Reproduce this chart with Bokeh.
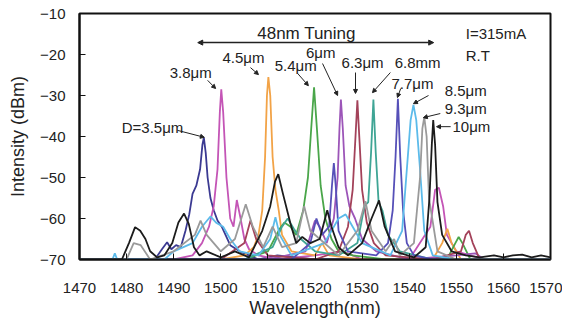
from bokeh.plotting import figure
from bokeh.models import Range1d, FixedTicker, Arrow, NormalHead
from bokeh.core.properties import value
from bokeh.embed import file_html
from bokeh.resources import INLINE

# ---------------- data ----------------
wl_35 = [1470, 1486, 1487.5, 1488.6, 1489.5, 1490.5, 1491.5, 1492.5, 1493.3, 1494, 1494.8, 1495.6, 1496.1, 1496.4,
         1496.8, 1497.2, 1497.8, 1498.5, 1499.3, 1500.2, 1501, 1502, 1504, 1506, 1508, 1512, 1520, 1540, 1570]
db_35 = [-70, -70, -67.5, -65.8, -67.5, -66.5, -67, -63, -59, -54, -52, -48, -42, -40.3,
         -44, -50, -55, -58, -60.5, -62, -64, -66.5, -68, -69, -70, -69, -70, -70, -70]

wl_38 = [1470, 1490, 1494, 1496, 1497.5, 1498.5, 1499.3, 1499.8, 1500.1, 1500.5, 1501.2, 1502, 1502.7, 1503.4,
         1504.2, 1505, 1506, 1508, 1512, 1520, 1526, 1530, 1540, 1544.5, 1545.5, 1546.3, 1547.2, 1548, 1550, 1556, 1570]
db_38 = [-70, -70, -69, -66, -62, -57, -48, -34, -28.5, -34, -50, -60, -62, -55.5,
         -60, -65, -67.5, -69, -70, -69, -68, -70, -70, -62, -53, -52.5, -57, -64, -68, -70, -70]

wl_45 = [1470, 1500, 1505, 1507, 1508, 1508.8, 1509.4, 1509.8, 1510.1, 1510.5, 1511, 1511.6, 1512.3, 1513, 1515,
         1520, 1521.5, 1523, 1530, 1545, 1547, 1548.1, 1549, 1551, 1570]
db_45 = [-70, -70, -69, -67, -64, -58, -45, -30, -25.5, -30, -45, -53, -58, -64, -68,
         -69, -66, -69, -70, -70, -66, -62.5, -66, -70, -70]

wl_54 = [1470, 1505, 1510, 1512.5, 1513.5, 1514.8, 1516, 1517.5, 1518.5, 1519.2, 1519.8, 1520.4, 1521.2, 1522.2,
         1523.5, 1525, 1528, 1535, 1548, 1549.8, 1550.5, 1551.3, 1553, 1570]
db_54 = [-70, -70, -68, -62.5, -61, -62, -64, -58, -50, -38, -28, -38, -52, -60,
         -65, -68, -69, -70, -70, -66, -64.5, -66, -70, -70]

wl_60 = [1470, 1510, 1518, 1520, 1521, 1522.5, 1524, 1524.8, 1525.2, 1525.5, 1525.9, 1526.5, 1527.3, 1528.5,
         1530, 1533, 1540, 1550, 1554, 1556, 1570]
db_60 = [-70, -70, -68, -60.5, -62, -66, -60, -50, -38, -31, -38, -52, -57, -60,
         -65, -68, -70, -69, -68.5, -70, -70]

wl_63 = [1470, 1500, 1505, 1506.3, 1507.5, 1510, 1520, 1525, 1527, 1528, 1528.6, 1529, 1529.4, 1530, 1531, 1532.5,
         1535, 1545, 1551, 1552, 1552.7, 1553.5, 1555, 1570]
db_63 = [-70, -70, -66, -60.5, -65, -69, -70, -68, -62, -53, -40, -31.2, -40, -53, -61, -66,
         -69, -70, -68, -64, -63, -66, -70, -70]

wl_68 = [1470, 1505, 1511, 1513, 1514.2, 1515.5, 1517, 1520, 1525, 1529, 1530.5, 1531.3, 1531.9, 1532.4, 1532.9,
         1533.5, 1534.3, 1535.5, 1538, 1545, 1570]
db_68 = [-70, -70, -67, -62, -60, -62.5, -65, -68, -69, -66, -57, -56, -44, -31, -44,
         -56, -58, -64, -68, -70, -70]

wl_77 = [1470, 1515, 1519, 1520.3, 1521.5, 1523, 1523.6, 1524, 1524.4, 1525, 1527, 1533, 1535.5, 1536.5, 1537.1,
         1537.6, 1538.1, 1538.7, 1539.5, 1541, 1545, 1570]
db_77 = [-70, -70, -66, -60, -64, -62, -52, -46.5, -52, -63, -68, -69, -66, -58, -45,
         -30.8, -45, -58, -66, -69, -70, -70]

wl_85 = [1470, 1477, 1477.5, 1478, 1488, 1490, 1494, 1496, 1497.8, 1499, 1500.5, 1502, 1504, 1508, 1510.5, 1511.6,
         1512.5, 1515, 1522, 1525, 1526.5, 1528, 1530, 1536, 1538.5, 1539.5, 1540.3, 1540.9, 1541.5, 1542.3, 1543.2,
         1545, 1550, 1570]
db_85 = [-70, -70, -68.5, -70, -70, -68, -66, -62, -59.5, -61, -62, -65, -68, -69, -65, -59.7,
         -64, -69, -66, -60, -59, -62, -66, -69, -63, -48, -36, -32.3, -36, -48, -63,
         -69, -70, -70]

wl_93 = [1470, 1480, 1481.5, 1483, 1485, 1490, 1494.5, 1495.7, 1497, 1500, 1503, 1505.3, 1506.8, 1509, 1511, 1513,
         1516, 1517.7, 1519, 1525, 1529, 1530.7, 1532, 1535, 1536.8, 1538, 1541, 1542.3, 1542.8, 1543.2, 1543.7,
         1544.2, 1546, 1550, 1570]
db_93 = [-70, -70, -66, -66.5, -70, -68, -64, -60.5, -64, -68, -65, -56.5, -62, -67, -62, -67,
         -66, -57, -63, -69, -63, -55.8, -63, -68, -65, -69, -66, -50, -38, -35.3, -40,
         -55, -68, -70, -70]

wl_100 = [1470, 1479, 1480.5, 1481.8, 1482.9, 1484, 1485, 1486.5, 1488, 1489.7, 1491, 1492.2, 1493.2, 1494.3,
          1495.5, 1497, 1500, 1503, 1506, 1508.8, 1510.5, 1511.5, 1512.2, 1513.2, 1514.8, 1516, 1517.3, 1519,
          1521, 1522.6, 1523.5, 1525, 1527, 1530, 1532, 1533.6, 1534.8, 1537, 1541, 1543.5, 1544.3, 1544.8,
          1545.1, 1545.5, 1546, 1547, 1549, 1552, 1555, 1558, 1560, 1562, 1564, 1566, 1568, 1570]
db_100 = [-70, -70, -66, -62.1, -63, -65, -68, -69.5, -69, -66, -61, -58.8, -61.3, -67,
          -69, -68, -69.5, -68, -69.5, -63, -57, -51, -49.2, -54, -61.3, -66, -64.5, -66,
          -65, -58, -62, -67, -69, -66, -60, -55.6, -62, -68, -69.5, -67, -55, -42,
          -36, -42, -56, -64, -68, -69, -69.5, -69, -69.5, -69, -68.8, -69.5, -69, -69.5]

series_wl = [wl_35, wl_38, wl_45, wl_54, wl_60, wl_63, wl_68, wl_77, wl_85, wl_93, wl_100]
series_db = [db_35, db_38, db_45, db_54, db_60, db_63, db_68, db_77, db_85, db_93, db_100]
series_colors = ["#3b3a92", "#c455b6", "#f2a347", "#4aa64a", "#9c55b8", "#a3425a",
                 "#3fa595", "#5650b8", "#5cbbea", "#9a9a9a", "#1c1c1c"]

x_ticks = [1470, 1480, 1490, 1500, 1510, 1520, 1530, 1540, 1550, 1560, 1570]
y_ticks = [-70, -60, -50, -40, -30, -20, -10]

# peak labels: text, x, y (data coordinates)
lab_text = ["D=3.5μm", "3.8μm", "4.5μm", "5.4μm", "6μm", "6.3μm", "6.8mm", "7.7μm", "8.5μm", "9.3μm", "10μm"]
lab_x = [1485.5, 1493.6, 1504.8, 1515.9, 1521.2, 1530.1, 1541.8, 1540.7, 1552.0, 1552.0, 1553.2]
lab_y = [-37.8, -24.4, -20.7, -22.7, -19.5, -22.0, -22.0, -27.1, -28.8, -33.2, -37.6]
# leader lines: start (near label) -> end (at peak)
lead_x0 = [1490.8, 1497.2, 1506.3, 1516.3, 1521.6, 1528.6, 1536.0, 1538.2, 1544.1, 1546.6, 1548.8]
lead_y0 = [-38.5, -26.3, -23.2, -24.6, -22.2, -24.4, -24.4, -28.3, -30.0, -34.4, -37.6]
lead_x1 = [1496.5, 1498.9, 1508.0, 1518.6, 1524.8, 1528.6, 1532.2, 1537.5, 1540.9, 1543.0, 1545.8]
lead_y1 = [-40.2, -28.3, -24.9, -27.6, -30.0, -29.5, -29.3, -30.5, -32.0, -35.4, -37.6]

tuning_text = "48nm Tuning"
tuning_x = 1518.2
tuning_y = -14.9
tuning_x0, tuning_x1, tuning_yarrow = 1495.1, 1545.2, -17.1
cond_text = ["I=315mA", "R.T"]
cond_x = [1552.0, 1552.0]
cond_y = [-14.9, -20.2]

# ---------------- figure ----------------
FONT = "Liberation Sans"
TXT = "#222222"

p = figure(width=562, height=324, output_backend="svg", toolbar_location=None,
           x_range=Range1d(1470, 1570), y_range=Range1d(-70, -10),
           min_border_left=79, min_border_right=12, min_border_top=13, min_border_bottom=65)
p.background_fill_color = "white"
p.border_fill_color = "white"
p.outline_line_color = "#111111"
p.outline_line_width = 2
p.xgrid.visible = False
p.ygrid.visible = False

for ax in (p.xaxis[0], p.yaxis[0]):
    ax.axis_line_color = "#111111"
    ax.axis_line_width = 2
    ax.major_tick_in = 6
    ax.major_tick_out = 0
    ax.minor_tick_line_color = None
    ax.major_tick_line_color = "#111111"
    ax.major_tick_line_width = 1
    ax.major_label_text_font = FONT
    ax.major_label_text_font_size = "15px"
    ax.major_label_text_color = TXT
    ax.axis_label_text_font = FONT
    ax.axis_label_text_font_size = "18px"
    ax.axis_label_text_font_style = "normal"
    ax.axis_label_text_color = TXT

p.xaxis.ticker = FixedTicker(ticks=x_ticks)
p.yaxis.ticker = FixedTicker(ticks=y_ticks)
p.xaxis.axis_label = "Wavelength(nm)"
p.yaxis.axis_label = "Intensity (dBm)"
p.xaxis.major_label_standoff = 23
p.xaxis.axis_label_standoff = 2
p.yaxis.major_label_standoff = 14
p.yaxis.axis_label_standoff = 9

for wl, db, c in zip(series_wl, series_db, series_colors):
    p.line(wl, db, line_color=c, line_width=1.8)

# peak labels
p.text(x=lab_x, y=lab_y, text=lab_text, text_font=value(FONT), text_font_size="15px",
       text_color=TXT, text_align="center", text_baseline="middle")
for x0, y0, x1, y1 in zip(lead_x0, lead_y0, lead_x1, lead_y1):
    p.add_layout(Arrow(x_start=x0, y_start=y0, x_end=x1, y_end=y1, line_color="#222222", line_width=1,
                       end=NormalHead(size=4, fill_color="#222222", line_color="#222222")))

# tuning range
p.add_layout(Arrow(x_start=tuning_x0, y_start=tuning_yarrow, x_end=tuning_x1, y_end=tuning_yarrow,
                   line_color="#222222", line_width=1.5,
                   start=NormalHead(size=5, fill_color="#222222", line_color="#222222"),
                   end=NormalHead(size=5, fill_color="#222222", line_color="#222222")))
p.text(x=[tuning_x], y=[tuning_y], text=[tuning_text], text_font=value(FONT), text_font_size="17px",
       text_color=TXT, text_align="center", text_baseline="middle")
p.text(x=cond_x, y=cond_y, text=cond_text, text_font=value(FONT), text_font_size="15px",
       text_color=TXT, text_align="left", text_baseline="middle")

open("out.html", "w").write(file_html(p, INLINE))
